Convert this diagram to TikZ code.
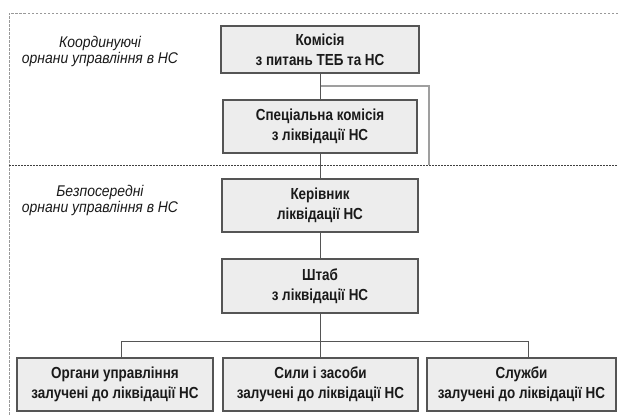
\documentclass[tikz,border=0pt]{standalone}
\usepackage{fontspec}
\setmainfont{Liberation Sans}[FakeStretch=0.84]
\newfontfamily\labfont{Liberation Sans}[FakeStretch=0.9]
\usetikzlibrary{calc}
\definecolor{boxfill}{HTML}{EDEDED}
\definecolor{boxline}{HTML}{555555}
\definecolor{txt}{HTML}{1A1A1A}
\tikzset{
  orgbox/.style={draw=boxline, line width=1.1pt, fill=boxfill, text=txt,
    font=\fontsize{16}{20}\selectfont\bfseries, align=center,
    inner sep=0pt, outer sep=0pt},
  sidelabel/.style={text=txt, font=\labfont\fontsize{15.5}{16}\selectfont\itshape, align=center},
  link/.style={draw=boxline, line width=0.9pt},
  bracket/.style={draw=gray!75, line width=1.2pt},
  topdash/.style={draw=gray!80, line width=0.8pt, dash pattern=on 2.5pt off 1.5pt},
  middash/.style={draw=black!75, line width=1pt, dash pattern=on 2pt off 1pt},
}
\begin{document}
\begin{tikzpicture}[x=1pt, y=-1pt]
\useasboundingbox (0,0) rectangle (618,416);
% frame lines
\coordinate (tl) at (9,13);
\coordinate (tr) at (618,13);
\coordinate (bl) at (9,416);
\coordinate (ml) at (9,165);
\coordinate (mr) at (618,165);
\draw[topdash] (tr) -- (tl) -- (bl);
% side labels
\node[sidelabel] (lab1) at (100,51) {Координуючі\\орнани управління в НС};
\node[sidelabel] (lab2) at (100,200) {Безпосередні\\орнани управління в НС};
% boxes
\node[orgbox, minimum width=198pt, minimum height=47pt] (k1) at (320,49.5) {Комісія\\з питань ТЕБ та НС};
\node[orgbox, minimum width=194pt, minimum height=53pt] (k2) at (320,126.5) {Спеціальна комісія\\з ліквідації НС};
\node[orgbox, minimum width=196pt, minimum height=53pt] (k3) at (320,205.5) {Керівник\\ліквідації НС};
\node[orgbox, minimum width=196pt, minimum height=54pt] (k4) at (320,286) {Штаб\\з ліквідації НС};
\node[orgbox, minimum width=196pt, minimum height=53pt] (bA) at (115,384.5) {Органи управління\\залучені до ліквідації НС};
\node[orgbox, minimum width=195pt, minimum height=53pt] (bB) at (320.5,384.5) {Сили і засоби\\залучені до ліквідації НС};
\node[orgbox, minimum width=189pt, minimum height=53pt] (bC) at (521.5,384.5) {Служби\\залучені до ліквідації НС};
% connectors
\coordinate (br0) at (320,86);
\coordinate (br1) at (429,86);
\coordinate (br2) at (429,165);
\draw[bracket] (br0) -- (br1) -- (br2);
\draw[link] (k1.south) -- (k2.north);
\draw[link] (k2.south) -- (k3.north);
\draw[link] (k3.south) -- (k4.south |- k4.north);
\coordinate (hl) at (121,341);
\coordinate (hm) at (320,341);
\coordinate (hr) at (528,341);
\draw[link] (k4.south) -- (hm);
\draw[link] (hl) -- (hr);
\draw[link] (hl) -- (hl |- bA.north);
\draw[link] (hm) -- (hm |- bB.north);
\draw[link] (hr) -- (hr |- bC.north);
\draw[middash] (ml) -- (mr);
\end{tikzpicture}
\end{document}
